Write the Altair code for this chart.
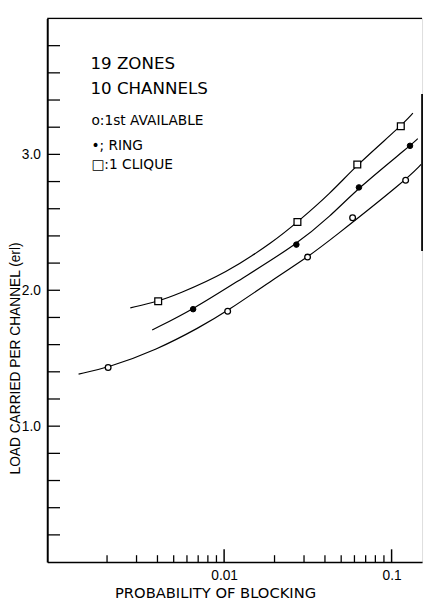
import altair as alt
import pandas as pd

# ---- data ----
# measured points
avail_x = [0.00203, 0.0105, 0.0315, 0.0585, 0.1213]
avail_y = [1.431, 1.845, 2.244, 2.533, 2.810]
ring_x = [0.00653, 0.0270, 0.0638, 0.1288]
ring_y = [1.861, 2.336, 2.757, 3.063]
clique_x = [0.00404, 0.0274, 0.0624, 0.1135]
clique_y = [1.919, 2.502, 2.926, 3.207]

# fitted curves
avail_curve_x = [0.001352, 0.002028, 0.00398, 0.00714, 0.01047, 0.0201, 0.0315, 0.0431, 0.1213, 0.150]
avail_curve_y = [1.383, 1.431, 1.563, 1.727, 1.847, 2.088, 2.244, 2.370, 2.810, 2.926]
ring_curve_x = [0.00372, 0.00653, 0.0128, 0.0270, 0.0431, 0.0638, 0.1288, 0.1433]
ring_curve_y = [1.708, 1.859, 2.088, 2.336, 2.545, 2.757, 3.063, 3.116]
clique_curve_x = [0.002754, 0.004035, 0.00521, 0.01023, 0.0201, 0.0274, 0.0431, 0.0624, 0.1135, 0.134]
clique_curve_y = [1.871, 1.919, 1.968, 2.124, 2.365, 2.502, 2.713, 2.926, 3.207, 3.303]

y_tick_values = [0.2, 0.4, 0.6, 0.8, 1.0, 1.2, 1.4, 1.6, 1.8, 2.0, 2.2, 2.4, 2.6, 2.8,
                 3.0, 3.2, 3.4, 3.6, 3.8]
y_label_values = [1.0, 2.0, 3.0]
x_minor_ticks = [0.002, 0.003, 0.004, 0.005, 0.006, 0.007, 0.008, 0.009,
                 0.02, 0.03, 0.04, 0.05, 0.06, 0.07, 0.08, 0.09]
x_major_ticks = [0.01, 0.1]

ann_header = ["19 ZONES", "10 CHANNELS"]
ann_legend = ["o:1st AVAILABLE", "\u2022; RING", "\u25a1:1 CLIQUE"]

x_title = "PROBABILITY OF BLOCKING"
y_title = "LOAD CARRIED PER CHANNEL   (erl)"

# ---- build tables ----
W, H = 382, 554
xs = alt.Scale(type="log", domain=[0.000879, 0.152], nice=False, zero=False)
ys = alt.Scale(domain=[0, 4], nice=False, zero=False)

curves = pd.concat([
    pd.DataFrame({"x": avail_curve_x, "y": avail_curve_y, "s": "avail"}),
    pd.DataFrame({"x": ring_curve_x, "y": ring_curve_y, "s": "ring"}),
    pd.DataFrame({"x": clique_curve_x, "y": clique_curve_y, "s": "clique"}),
])
df_avail = pd.DataFrame({"x": avail_x, "y": avail_y})
df_ring = pd.DataFrame({"x": ring_x, "y": ring_y})
df_clique = pd.DataFrame({"x": clique_x, "y": clique_y})

AX = alt.Axis(values=x_major_ticks, format=".2~f", tickSize=0, grid=False,
              domainColor="black", domainWidth=1.6, labelFontSize=14,
              labelColor="black", labelPadding=7, labelFont="Liberation Sans",
              title=x_title, titleFontSize=15, titleFontWeight="normal",
              titleColor="black", titleFont="DejaVu Sans",
              titleX=171, titleY=31, titleBaseline="middle", titleAlign="center")
AY = alt.Axis(values=y_label_values, format=".1f", tickSize=0, grid=False,
              domainColor="black", domainWidth=2, labelFontSize=14,
              labelColor="black", labelPadding=7, labelFont="Liberation Sans",
              title=y_title, titleFontSize=14, titleFontWeight="normal",
              titleColor="black", titleFont="Liberation Sans",
              titleX=-32, titleY=346, titleBaseline="middle", titleAlign="center",
              titleAngle=270)

def xq(f):
    return alt.X(f, scale=xs, axis=AX, title=x_title)

def yq(f):
    return alt.Y(f, scale=ys, axis=AY, title=y_title)

lines = alt.Chart(curves).mark_line(color="black", strokeWidth=1.2, interpolate="basis").encode(
    x=xq("x:Q"), y=yq("y:Q"), detail="s:N", order="x:Q")

pts_avail = alt.Chart(df_avail).mark_point(shape="circle", size=34, fill="white", stroke="black",
                                           strokeWidth=1.3, opacity=1, fillOpacity=1).encode(
    x=xq("x:Q"), y=yq("y:Q"))
pts_ring = alt.Chart(df_ring).mark_point(shape="circle", size=32, fill="black", stroke="black",
                                         strokeWidth=1, opacity=1, fillOpacity=1).encode(
    x=xq("x:Q"), y=yq("y:Q"))
pts_clique = alt.Chart(df_clique).mark_point(shape="square", size=48, fill="white", stroke="black",
                                             strokeWidth=1.3, opacity=1, fillOpacity=1).encode(
    x=xq("x:Q"), y=yq("y:Q"))

yticks = alt.Chart(pd.DataFrame({"x": y_tick_values})).mark_rule(color="black", strokeWidth=1.3).encode(
    y=yq("x:Q"), x=alt.value(0), x2=alt.value(13))
xminor = alt.Chart(pd.DataFrame({"x": x_minor_ticks})).mark_rule(color="black", strokeWidth=1.3).encode(
    x=xq("x:Q"), y=alt.value(H), y2=alt.value(H - 7))
xmajor = alt.Chart(pd.DataFrame({"x": x_major_ticks})).mark_rule(color="black", strokeWidth=1.5).encode(
    x=xq("x:Q"), y=alt.value(H), y2=alt.value(H - 13))

top_line = alt.Chart(pd.DataFrame({"a": [0]})).mark_rule(color="black", strokeWidth=1.3).encode(
    x=alt.value(0), x2=alt.value(W), y=alt.value(0))
right_line = alt.Chart(pd.DataFrame({"a": [0]})).mark_rule(color="black", strokeWidth=1.8).encode(
    x=alt.value(W), y=alt.value(77), y2=alt.value(237))

header_y = [46, 72]
legend_y = [105, 130, 149]
texts = []
for t, yy in zip(ann_header, header_y):
    texts.append(alt.Chart(pd.DataFrame({"t": [t]})).mark_text(
        align="left", baseline="middle", fontSize=17, font="DejaVu Sans", color="black").encode(
        text="t:N", x=alt.value(44), y=alt.value(yy)))
for t, yy in zip(ann_legend, legend_y):
    texts.append(alt.Chart(pd.DataFrame({"t": [t]})).mark_text(
        align="left", baseline="middle", fontSize=14, font="DejaVu Sans", color="black").encode(
        text="t:N", x=alt.value(45), y=alt.value(yy)))

chart = alt.layer(lines, pts_avail, pts_ring, pts_clique, yticks, xminor, xmajor, top_line,
                  right_line, *texts).properties(
    width=W, height=H,
    autosize=alt.AutoSizeParams(type="none"),
    padding={"left": 40, "top": 5, "right": 3, "bottom": 34},
).configure_view(stroke=None).configure(font="Liberation Sans", background="white")

chart.save("out.html", embed_options={"renderer": "svg", "actions": False})
